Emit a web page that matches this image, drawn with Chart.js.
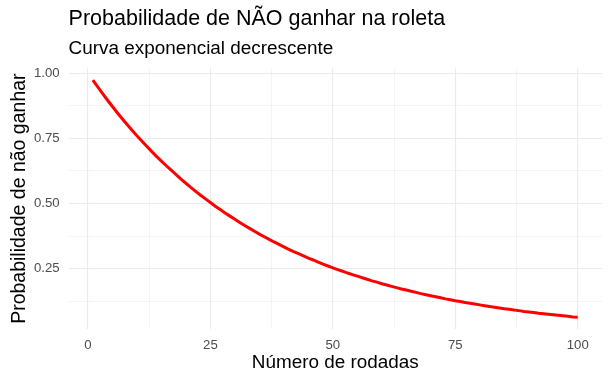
<!DOCTYPE html>
<html>
<head>
<meta charset="utf-8">
<script src="https://cdn.jsdelivr.net/npm/chart.js@4.4.1/dist/chart.umd.min.js"></script>
<style>
html,body{margin:0;padding:0;background:#fff;}
#wrap{width:612px;height:384px;}
</style>
</head>
<body>
<div id="wrap"><canvas id="c" width="612" height="384"></canvas></div>
<script>
const titleText = "Probabilidade de NÃO ganhar na roleta";
const subtitleText = "Curva exponencial decrescente";
const xAxisTitle = "Número de rodadas";
const yAxisTitle = "Probabilidade de não ganhar";

const rodadas = [
  1,2,3,4,5,6,7,8,9,10,11,12,13,14,15,16,17,18,19,20,
  21,22,23,24,25,26,27,28,29,30,31,32,33,34,35,36,37,38,39,40,
  41,42,43,44,45,46,47,48,49,50,51,52,53,54,55,56,57,58,59,60,
  61,62,63,64,65,66,67,68,69,70,71,72,73,74,75,76,77,78,79,80,
  81,82,83,84,85,86,87,88,89,90,91,92,93,94,95,96,97,98,99,100
];
const probNaoGanhar = [
  0.973,0.947,0.921,0.896,0.872,0.848,0.825,0.803,0.781,0.760,
  0.740,0.720,0.700,0.681,0.663,0.645,0.628,0.611,0.594,0.578,
  0.562,0.547,0.532,0.518,0.504,0.490,0.477,0.464,0.452,0.440,
  0.428,0.416,0.405,0.394,0.383,0.373,0.363,0.353,0.344,0.334,
  0.325,0.316,0.308,0.300,0.291,0.284,0.276,0.268,0.261,0.254,
  0.247,0.241,0.234,0.228,0.222,0.216,0.210,0.204,0.199,0.193,
  0.188,0.183,0.178,0.173,0.169,0.164,0.160,0.155,0.151,0.147,
  0.143,0.139,0.135,0.132,0.128,0.125,0.121,0.118,0.115,0.112,
  0.109,0.106,0.103,0.100,0.097,0.095,0.092,0.090,0.087,0.085,
  0.083,0.080,0.078,0.076,0.074,0.072,0.070,0.068,0.066,0.065
];
const xTicks = [0, 25, 50, 75, 100];
const yTicks = [0.25, 0.50, 0.75, 1.00];

const xMinor = xTicks.slice(0, -1).map((v, i) => (v + xTicks[i + 1]) / 2);
const yMinor = [yTicks[0] - 0.125].concat(yTicks.slice(0, -1).map((v, i) => (v + yTicks[i + 1]) / 2));

const xs = rodadas, ys = probNaoGanhar;
const xLo = Math.min(...xs), xHi = Math.max(...xs);
const yLo = Math.min(...ys), yHi = Math.max(...ys);
const xPad = (xHi - xLo) * 0.05, yPad = (yHi - yLo) * 0.05;

const FONT = "'Liberation Sans', Arial, sans-serif";

new Chart(document.getElementById('c'), {
  type: 'line',
  data: {
    datasets: [{
      data: rodadas.map((x, i) => ({x: x, y: probNaoGanhar[i]})),
      borderColor: '#FF0000',
      borderWidth: 3,
      pointRadius: 0,
      tension: 0,
      fill: false
    }]
  },
  options: {
    responsive: false,
    animation: false,
    devicePixelRatio: 1,
    layout: { padding: { left: 0, right: 10, top: 6, bottom: 0 } },
    plugins: {
      legend: { display: false },
      tooltip: { enabled: false },
      title: {
        display: true, text: titleText, align: 'start', fullSize: false,
        color: '#000', font: { family: FONT, size: 21.5, weight: 'normal' },
        padding: { top: 0, bottom: 5.3 }
      },
      subtitle: {
        display: true, text: subtitleText, align: 'start', fullSize: false,
        color: '#000', font: { family: FONT, size: 18.9, weight: 'normal' },
        padding: { top: 0, bottom: 8.5 }
      }
    },
    scales: {
      x: {
        type: 'linear',
        min: xLo - xPad, max: xHi + xPad,
        afterBuildTicks: (s) => {
          s.ticks = xTicks.concat(xMinor).sort((a, b) => a - b).map(v => ({value: v}));
        },
        afterFit: (s) => { s.height = 55; },
        border: { display: false },
        grid: {
          drawTicks: false,
          color: '#EBEBEB',
          lineWidth: (ctx) => (xTicks.includes(ctx.tick && ctx.tick.value) ? 1.1 : 0.55)
        },
        ticks: {
          autoSkip: false, maxRotation: 0, padding: 8,
          color: '#4D4D4D', font: { family: FONT, size: 13.2 },
          callback: (v) => (xTicks.includes(v) ? String(v) : '')
        },
        title: {
          display: true, text: xAxisTitle, color: '#000',
          font: { family: FONT, size: 18.9 }, padding: { top: 0, bottom: 10.3 }
        }
      },
      y: {
        type: 'linear',
        min: yLo - yPad, max: yHi + yPad,
        afterBuildTicks: (s) => {
          s.ticks = yTicks.concat(yMinor).sort((a, b) => a - b).map(v => ({value: v}));
        },
        afterFit: (s) => { s.width = 68.6; },
        border: { display: false },
        grid: {
          drawTicks: false,
          color: '#EBEBEB',
          lineWidth: (ctx) => (yTicks.includes(ctx.tick && ctx.tick.value) ? 1.1 : 0.55)
        },
        ticks: {
          autoSkip: false, padding: 9,
          color: '#4D4D4D', font: { family: FONT, size: 13.2 },
          callback: (v) => (yTicks.includes(v) ? v.toFixed(2) : '')
        },
        title: {
          display: true, text: yAxisTitle, color: '#000',
          font: { family: FONT, size: 19.5 }, padding: { top: 8, bottom: 0 }
        }
      }
    }
  }
});
</script>
</body>
</html>
